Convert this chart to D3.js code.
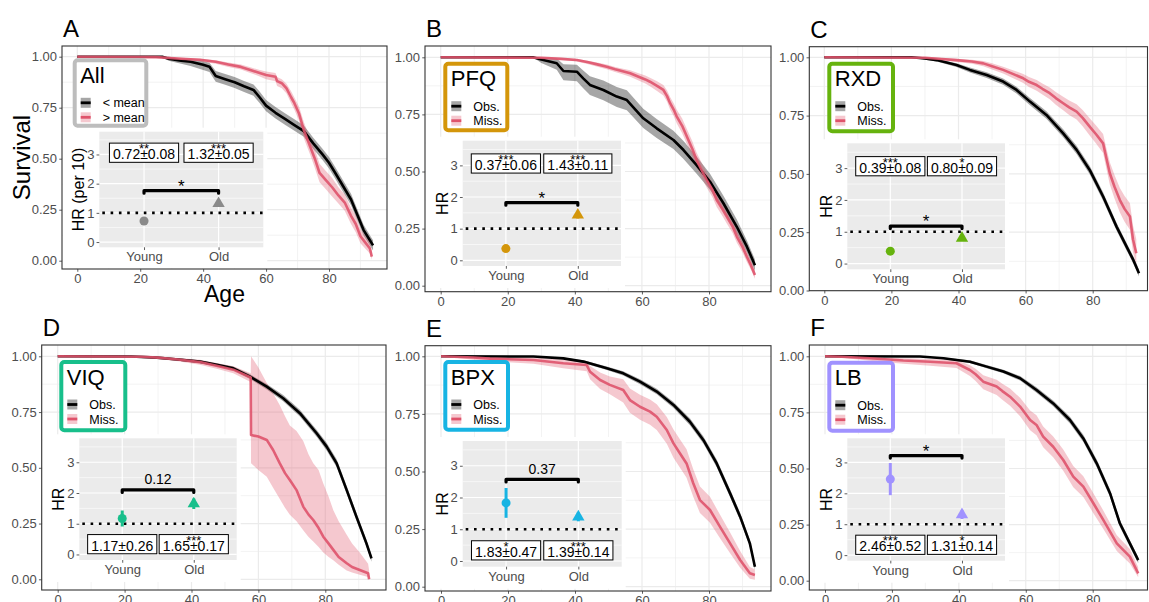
<!DOCTYPE html>
<html>
<head>
<meta charset="utf-8">
<script src="https://cdn.jsdelivr.net/npm/d3@7"></script>
<style>
  body { margin: 0; background: #fff; }
  svg { display: block; font-family: "Liberation Sans", Arial, sans-serif; }
</style>
</head>
<body>
<svg id="chart" width="1149" height="602"></svg>
<script>
// Kaplan-Meier curves, rows are [age, survival, lower CI, upper CI]
const allLow = [[0,1,1,1],[27,1,1,1],[29,0.99,0.98,1],[33,0.98,0.965,0.99],[36,0.975,0.955,0.988],[40,0.96,0.935,0.978],[42,0.951,0.925,0.97],[44,0.905,0.877,0.93],[47,0.89,0.862,0.915],[50,0.875,0.847,0.9],[53,0.855,0.827,0.881],[56,0.837,0.808,0.864],[58,0.8,0.772,0.828],[60,0.76,0.732,0.788],[63,0.725,0.697,0.753],[66,0.695,0.667,0.723],[69,0.665,0.637,0.693],[72,0.635,0.607,0.663],[75,0.575,0.547,0.603],[78,0.52,0.492,0.548],[80,0.48,0.452,0.508],[82,0.43,0.402,0.458],[84.5,0.365,0.337,0.393],[87,0.3,0.272,0.328],[89,0.225,0.198,0.252],[91,0.15,0.124,0.176],[93,0.1,0.075,0.125],[94,0.075,0.05,0.1]];
const allHigh = [[0,1,1,1],[25,0.998,0.995,1],[33,0.99,0.985,0.995],[39,0.985,0.978,0.99],[44,0.975,0.965,0.983],[48,0.962,0.95,0.972],[52,0.95,0.937,0.962],[55,0.935,0.92,0.948],[58,0.92,0.903,0.935],[60,0.91,0.89,0.927],[63,0.902,0.88,0.92],[63.5,0.88,0.856,0.9],[65,0.87,0.845,0.89],[66.5,0.845,0.82,0.868],[68,0.8,0.77,0.83],[69,0.772,0.74,0.8],[70.5,0.72,0.685,0.755],[72,0.64,0.6,0.68],[73,0.6,0.56,0.64],[74,0.56,0.52,0.6],[75.5,0.5,0.455,0.545],[77,0.43,0.385,0.475],[79,0.395,0.35,0.44],[81,0.36,0.315,0.405],[83,0.32,0.28,0.36],[85,0.285,0.245,0.325],[87,0.22,0.18,0.26],[88.5,0.18,0.14,0.22],[90,0.12,0.085,0.155],[91.5,0.09,0.06,0.12],[93,0.06,0.035,0.09],[93.6,0.02,0.005,0.04]];

const pfqObs = [[0,1,1,1],[27.5,1,1,1],[30,0.99,0.975,0.998],[34.6,0.974,0.945,0.995],[36.6,0.94,0.9,0.97],[40.6,0.937,0.895,0.967],[42.5,0.908,0.865,0.942],[44.5,0.879,0.835,0.917],[48.5,0.857,0.812,0.898],[52.5,0.828,0.782,0.87],[55.5,0.813,0.768,0.856],[60.4,0.733,0.69,0.775],[64.4,0.689,0.647,0.73],[69.4,0.638,0.598,0.678],[72.4,0.594,0.555,0.633],[76.3,0.528,0.49,0.566],[80.3,0.455,0.42,0.49],[84.3,0.361,0.328,0.394],[88.3,0.258,0.228,0.29],[91.3,0.171,0.145,0.198],[93.7,0.09,0.065,0.115]];
const pfqMiss = [[0,1,1,1],[30,0.998,0.995,1],[36,0.993,0.988,0.997],[40.6,0.988,0.982,0.993],[44,0.978,0.97,0.985],[47,0.968,0.958,0.976],[49.5,0.959,0.948,0.968],[52,0.948,0.936,0.958],[54,0.94,0.927,0.951],[56.5,0.93,0.915,0.943],[59,0.915,0.898,0.93],[61,0.903,0.885,0.92],[62.4,0.893,0.873,0.911],[64.5,0.875,0.853,0.895],[66.4,0.857,0.833,0.879],[67.5,0.83,0.805,0.855],[68.4,0.799,0.772,0.826],[69.5,0.77,0.742,0.798],[70.4,0.74,0.71,0.77],[72,0.7,0.668,0.732],[73.4,0.653,0.62,0.686],[75,0.6,0.567,0.633],[76.3,0.55,0.517,0.583],[78,0.5,0.467,0.533],[79.3,0.463,0.43,0.496],[81,0.42,0.388,0.452],[82.3,0.375,0.345,0.405],[84,0.335,0.305,0.365],[85.3,0.302,0.272,0.332],[87,0.26,0.232,0.288],[88.3,0.215,0.188,0.242],[90,0.17,0.145,0.195],[91.3,0.127,0.104,0.15],[92.5,0.09,0.07,0.11],[93.7,0.047,0.03,0.065]];

const rxdObs = [[0,1,1,1],[26,1,1,1],[30,0.995,0.99,0.999],[33.5,0.988,0.982,0.993],[39.4,0.967,0.958,0.975],[43.4,0.946,0.935,0.956],[48.4,0.924,0.911,0.936],[53.3,0.896,0.882,0.909],[57.3,0.86,0.845,0.874],[61.3,0.81,0.794,0.825],[66.2,0.753,0.737,0.769],[71.2,0.674,0.657,0.691],[75.2,0.603,0.585,0.621],[79.1,0.517,0.499,0.535],[83.1,0.403,0.385,0.421],[87.1,0.274,0.257,0.291],[90.1,0.188,0.172,0.204],[92.1,0.131,0.115,0.147],[93.8,0.074,0.06,0.09]];
const rxdMiss = [[0,1,1,1],[30,0.998,0.995,1],[35,0.993,0.987,0.997],[39.4,0.988,0.98,0.994],[44,0.982,0.972,0.99],[47.4,0.974,0.962,0.984],[50,0.962,0.948,0.974],[53.3,0.946,0.93,0.96],[56,0.93,0.912,0.946],[59.3,0.91,0.89,0.928],[61,0.895,0.873,0.915],[63.3,0.881,0.857,0.903],[65,0.865,0.84,0.888],[67.2,0.846,0.82,0.87],[69,0.825,0.797,0.851],[71.2,0.803,0.773,0.831],[73,0.785,0.753,0.815],[75.2,0.767,0.733,0.799],[77,0.74,0.704,0.774],[79.1,0.703,0.665,0.739],[81,0.67,0.63,0.708],[83.1,0.631,0.59,0.671],[84.2,0.56,0.515,0.603],[85.1,0.503,0.455,0.55],[86.5,0.445,0.395,0.495],[88.1,0.388,0.335,0.44],[89.5,0.35,0.295,0.405],[91.1,0.317,0.26,0.374],[92,0.22,0.165,0.28],[93,0.16,0.11,0.22]];

const viqObs = [[0,1,1,1],[22,0.999,0.998,1],[29.6,0.994,0.99,0.997],[36,0.986,0.98,0.991],[42.5,0.976,0.969,0.982],[47.5,0.962,0.954,0.969],[52.5,0.946,0.937,0.954],[57.5,0.909,0.898,0.919],[62.5,0.864,0.851,0.876],[67.4,0.812,0.798,0.826],[72.4,0.745,0.73,0.76],[77.4,0.655,0.639,0.671],[80.4,0.595,0.578,0.612],[83.4,0.52,0.502,0.538],[86.4,0.4,0.382,0.418],[89.3,0.281,0.264,0.298],[92.3,0.161,0.145,0.177],[93.8,0.094,0.079,0.109]];
const viqMiss = [[0,1,1,1],[25,0.998,0.995,1],[30,0.994,0.988,0.998],[36,0.986,0.978,0.992],[42.5,0.974,0.962,0.984],[47.5,0.958,0.944,0.97],[52.5,0.94,0.924,0.955],[57.7,0.905,0.885,0.924],[57.8,0.647,0.52,1],[60,0.64,0.49,0.95],[62.5,0.625,0.46,0.88],[64.4,0.58,0.41,0.834],[66.4,0.52,0.36,0.78],[68,0.475,0.32,0.73],[69.4,0.445,0.29,0.69],[71.4,0.4,0.26,0.665],[73.4,0.326,0.22,0.62],[75,0.29,0.19,0.56],[76.4,0.266,0.17,0.52],[78,0.23,0.145,0.49],[79.4,0.191,0.12,0.43],[81,0.16,0.1,0.37],[82.4,0.132,0.085,0.31],[84,0.1,0.065,0.26],[86.4,0.072,0.04,0.2],[88,0.055,0.03,0.16],[90.3,0.042,0.02,0.12],[92.8,0.027,0.01,0.07],[93.1,0,0,0.04]];

const bpxObs = [[0,1,1,1],[27.6,0.999,0.998,1],[36.5,0.991,0.987,0.995],[42.5,0.977,0.971,0.983],[49.5,0.948,0.94,0.956],[54.4,0.926,0.917,0.935],[59.4,0.89,0.879,0.9],[64.4,0.847,0.835,0.859],[69.4,0.789,0.776,0.802],[74.3,0.716,0.701,0.731],[78.3,0.637,0.621,0.653],[82.3,0.535,0.518,0.552],[86.3,0.405,0.388,0.422],[89.3,0.304,0.287,0.321],[92.2,0.188,0.172,0.204],[93.7,0.087,0.072,0.102]];
const bpxMiss = [[0,1,1,1],[9.7,0.995,0.985,1],[14.6,0.99,0.978,0.998],[27.6,0.984,0.968,0.995],[36.5,0.97,0.948,0.986],[43.5,0.962,0.935,0.98],[44.5,0.933,0.9,0.958],[47.5,0.897,0.858,0.93],[50.4,0.876,0.835,0.912],[54.4,0.854,0.8,0.9],[56.4,0.81,0.755,0.86],[59.4,0.781,0.725,0.833],[62.4,0.76,0.703,0.813],[64.4,0.738,0.68,0.792],[67.4,0.68,0.62,0.737],[69.4,0.622,0.56,0.682],[71.3,0.579,0.517,0.64],[73.3,0.535,0.473,0.597],[75.3,0.449,0.39,0.51],[77.3,0.376,0.32,0.435],[80.3,0.333,0.278,0.39],[83.3,0.26,0.21,0.312],[86.3,0.188,0.145,0.235],[89.3,0.116,0.082,0.155],[92.2,0.058,0.035,0.085],[93.7,0.051,0.03,0.075]];

const lbObs = [[0,1,1,1],[28.4,0.999,0.998,1],[35.4,0.991,0.987,0.995],[43.3,0.976,0.97,0.982],[48.3,0.954,0.947,0.961],[53.3,0.932,0.924,0.94],[58.3,0.902,0.892,0.912],[63.2,0.85,0.838,0.862],[68.2,0.79,0.777,0.803],[73.2,0.716,0.701,0.731],[77.2,0.634,0.618,0.65],[81.2,0.523,0.506,0.54],[85.2,0.389,0.372,0.406],[88.1,0.256,0.24,0.272],[91.1,0.166,0.151,0.181],[93.6,0.092,0.078,0.106]];
const lbMiss = [[0,1,1,1],[5,0.998,0.993,1],[13.4,0.991,0.98,0.998],[23.4,0.981,0.967,0.991],[31.4,0.976,0.958,0.988],[39.3,0.969,0.948,0.984],[43.3,0.939,0.912,0.96],[45,0.92,0.89,0.944],[47.3,0.887,0.853,0.915],[51.3,0.865,0.828,0.896],[53,0.845,0.806,0.878],[55.3,0.82,0.78,0.856],[58.3,0.776,0.733,0.815],[61.3,0.716,0.671,0.758],[63.2,0.694,0.648,0.737],[65.2,0.642,0.595,0.687],[68.2,0.597,0.55,0.643],[71.2,0.538,0.49,0.585],[74.2,0.464,0.417,0.511],[77.2,0.419,0.373,0.466],[80.2,0.345,0.301,0.39],[83.2,0.27,0.23,0.312],[87.2,0.166,0.132,0.203],[91.1,0.107,0.077,0.141],[93.6,0.033,0.015,0.06]];

const ageTicks = [0, 20, 40, 60, 80];
const ageMinor = [10, 30, 50, 70, 90];
const survTicks = [0, 0.25, 0.5, 0.75, 1];
const survMinor = [0.125, 0.375, 0.625, 0.875];
const hrTicks = [0, 1, 2, 3];
const hrMinor = [0.5, 1.5, 2.5, 3.5];
const groups = ['Young', 'Old'];

const panelLetters = ['A', 'B', 'C', 'D', 'E', 'F'];
const variables = ['All', 'PFQ', 'RXD', 'VIQ', 'BPX', 'LB'];
const seriesLabels = [['< mean', '> mean'], ['Obs.', 'Miss.'], ['Obs.', 'Miss.'], ['Obs.', 'Miss.'], ['Obs.', 'Miss.'], ['Obs.', 'Miss.']];
const hrTitles = ['HR (per 10)', 'HR', 'HR', 'HR', 'HR', 'HR'];
const hrYoung = [0.72, 0.37, 0.39, 1.17, 1.83, 2.46];
const seYoung = [0.08, 0.06, 0.08, 0.26, 0.47, 0.52];
const hrOld = [1.32, 1.43, 0.80, 1.65, 1.39, 1.31];
const seOld = [0.05, 0.11, 0.09, 0.17, 0.14, 0.14];
const starsYoung = ['**', '***', '***', '', '*', '***'];
const starsOld = ['***', '***', '*', '***', '***', '*'];
const pairText = ['*', '*', '*', '0.12', '0.37', '*'];
const pairY = [1.76, 1.82, 1.18, 2.1, 2.57, 3.22];
const labelY = [3.06, 3.06, 3.06, 0.335, 0.335, 0.335];
const accent = ['#8a8a8a', '#d4960a', '#66b30e', '#18bf8b', '#17b4e3', '#a092ff'];
const legendBorder = ['#bdbdbd', '#d4960a', '#66b30e', '#18bf8b', '#17b4e3', '#a092ff'];
const curves = [[allLow, allHigh], [pfqObs, pfqMiss], [rxdObs, rxdMiss], [viqObs, viqMiss], [bpxObs, bpxMiss], [lbObs, lbMiss]];

// pixel geometry of each panel (x0/x80: age 0 and 80, s0/s1: survival 0 and 1)
const layout = [
  { left: 62, right: 387, top: 46, bottom: 269, x0: 77.3, x80: 329, s0: 260.7, s1: 56.7,
    inset: [99.3, 263.3, 131.7, 247.3], legend: [72.7, 58.3, 75.6, 69.4] },
  { left: 425, right: 771, top: 46, bottom: 291.7, x0: 440.7, x80: 709, s0: 285.7, s1: 57.3,
    inset: [462.7, 621, 140.7, 266], legend: [443.3, 61.7, 66, 70.6] },
  { left: 809.3, right: 1147.5, top: 46.7, bottom: 290.7, x0: 824.3, x80: 1092.7, s0: 290.5, s1: 57.3,
    inset: [847.3, 1005, 143.3, 269.3], legend: [827.3, 61.7, 67.7, 71.6] },
  { left: 41.7, right: 386, top: 345, bottom: 590, x0: 57.7, x80: 325.3, s0: 579.3, s1: 356.3,
    inset: [79.3, 236.7, 438.3, 560], legend: [59.3, 360, 68, 72.3] },
  { left: 425, right: 771, top: 345.7, bottom: 591, x0: 441, x80: 709, s0: 586.7, s1: 356.3,
    inset: [462.7, 621.7, 441, 566.7], legend: [443.3, 360, 66.7, 71.7] },
  { left: 809.3, right: 1147.5, top: 345, bottom: 590, x0: 825, x80: 1092.7, s0: 580.7, s1: 356.3,
    inset: [847.3, 1005, 438.3, 560.7], legend: [827.3, 360.7, 67.7, 72] }
];

const lineColors = ['#000000', '#df536b'];
const bandOpacity = [0.35, 0.32];
const tickGrey = '#4d4d4d';
const fmt2 = d3.format('.2f');

const svg = d3.select('#chart');

const styleAxis = (sel, size) => {
  sel.select('.domain').remove();
  sel.selectAll('.tick line').attr('stroke', '#333333').attr('stroke-width', 0.8);
  sel.selectAll('.tick text')
    .attr('fill', tickGrey)
    .attr('font-size', size)
    .attr('font-family', '"Liberation Sans", Arial, sans-serif');
};

layout.forEach((p, i) => {
  const x = d3.scaleLinear().domain([0, 80]).range([p.x0, p.x80]);
  const y = d3.scaleLinear().domain([0, 1]).range([p.s0, p.s1]);
  const g = svg.append('g').attr('class', `panel panel-${i}`);

  g.append('clipPath')
    .attr('id', `clip${i}`)
    .append('rect')
    .attr('x', p.left)
    .attr('y', p.top)
    .attr('width', p.right - p.left)
    .attr('height', p.bottom - p.top);

  // grid lines
  const grid = g.append('g');
  grid.selectAll('.vmin').data(ageMinor.filter(d => x(d) < p.right)).join('line')
    .attr('x1', d => x(d)).attr('x2', d => x(d))
    .attr('y1', p.top).attr('y2', p.bottom)
    .attr('stroke', '#ebebeb').attr('stroke-width', 0.6);
  grid.selectAll('.hmin').data(survMinor).join('line')
    .attr('x1', p.left).attr('x2', p.right)
    .attr('y1', d => y(d)).attr('y2', d => y(d))
    .attr('stroke', '#ebebeb').attr('stroke-width', 0.6);
  grid.selectAll('.vmaj').data(ageTicks).join('line')
    .attr('x1', d => x(d)).attr('x2', d => x(d))
    .attr('y1', p.top).attr('y2', p.bottom)
    .attr('stroke', '#ebebeb').attr('stroke-width', 1.2);
  grid.selectAll('.hmaj').data(survTicks).join('line')
    .attr('x1', p.left).attr('x2', p.right)
    .attr('y1', d => y(d)).attr('y2', d => y(d))
    .attr('stroke', '#ebebeb').attr('stroke-width', 1.2);

  // survival bands and lines
  const plot = g.append('g').attr('clip-path', `url(#clip${i})`);
  curves[i].forEach((rows, k) => {
    const area = d3.area()
      .x(d => x(d[0]))
      .y0(d => y(d[2]))
      .y1(d => y(d[3]));
    plot.append('path')
      .datum(rows)
      .attr('d', area)
      .attr('fill', lineColors[k])
      .attr('fill-opacity', bandOpacity[k]);
  });
  curves[i].forEach((rows, k) => {
    const line = d3.line()
      .x(d => x(d[0]))
      .y(d => y(d[1]));
    plot.append('path')
      .datum(rows)
      .attr('d', line)
      .attr('fill', 'none')
      .attr('stroke', lineColors[k])
      .attr('stroke-opacity', k === 0 ? 1 : 0.9)
      .attr('stroke-width', 2.6)
      .attr('stroke-linejoin', 'round');
  });

  // inset hazard ratio plot
  const [gl, gr, gt, gb] = p.inset;
  const inset = g.append('g');
  const bgBottom = Math.min(gb + 22, p.bottom - 0.6);
  inset.append('rect')
    .attr('x', p.left + 0.6)
    .attr('y', gt - 4)
    .attr('width', gr + 4 - p.left - 0.6)
    .attr('height', bgBottom - gt + 4)
    .attr('fill', '#ffffff');
  inset.append('rect')
    .attr('x', gl).attr('y', gt)
    .attr('width', gr - gl).attr('height', gb - gt)
    .attr('fill', '#ebebeb');

  const hy = d3.scaleLinear().domain([-0.18, 3.78]).range([gb, gt]);
  const hx = d3.scalePoint().domain(groups).range([gl, gr]).padding(0.6);

  inset.selectAll('.hrmin').data(hrMinor).join('line')
    .attr('x1', gl).attr('x2', gr)
    .attr('y1', d => hy(d)).attr('y2', d => hy(d))
    .attr('stroke', '#ffffff').attr('stroke-width', 0.6);
  inset.selectAll('.hrmaj').data(hrTicks).join('line')
    .attr('x1', gl).attr('x2', gr)
    .attr('y1', d => hy(d)).attr('y2', d => hy(d))
    .attr('stroke', '#ffffff').attr('stroke-width', 1.2);
  inset.selectAll('.grpmaj').data(groups).join('line')
    .attr('x1', d => hx(d)).attr('x2', d => hx(d))
    .attr('y1', gt).attr('y2', gb)
    .attr('stroke', '#ffffff').attr('stroke-width', 1.2);

  // reference line at HR = 1
  inset.append('line')
    .attr('x1', gl + 3).attr('x2', gr)
    .attr('y1', hy(1)).attr('y2', hy(1))
    .attr('stroke', '#000')
    .attr('stroke-width', 2.6)
    .attr('stroke-dasharray', '2.6 5.7');

  // comparison bracket
  const by = hy(pairY[i]);
  const bx1 = hx(groups[0]);
  const bx2 = hx(groups[1]);
  inset.append('path')
    .attr('d', `M${bx1},${by + 2.5}L${bx1},${by}L${bx2},${by}L${bx2},${by + 2.5}`)
    .attr('fill', 'none')
    .attr('stroke', '#000')
    .attr('stroke-width', 3.2)
    .attr('stroke-linecap', 'round')
    .attr('stroke-linejoin', 'round');
  const isStars = /^\*+$/.test(pairText[i]);
  inset.append('text')
    .attr('x', (bx1 + bx2) / 2)
    .attr('y', isStars ? by + 1 : by - 5.5)
    .attr('text-anchor', 'middle')
    .attr('font-size', isStars ? 17 : 14)
    .text(pairText[i]);

  // hazard ratios with error bars
  const hrs = [hrYoung[i], hrOld[i]];
  const ses = [seYoung[i], seOld[i]];
  groups.forEach((grp, j) => {
    inset.append('line')
      .attr('x1', hx(grp)).attr('x2', hx(grp))
      .attr('y1', hy(hrs[j] - ses[j])).attr('y2', hy(hrs[j] + ses[j]))
      .attr('stroke', accent[i])
      .attr('stroke-width', 3);
    inset.append('path')
      .attr('transform', `translate(${hx(grp)},${hy(hrs[j])})`)
      .attr('d', d3.symbol().type(j === 0 ? d3.symbolCircle : d3.symbolTriangle).size(j === 0 ? 64 : 66)())
      .attr('fill', accent[i]);
  });

  // value labels
  const stars = [starsYoung[i], starsOld[i]];
  groups.forEach((grp, j) => {
    const cx = hx(grp);
    const cy = hy(labelY[i]);
    const lab = inset.append('g');
    const rect = lab.append('rect');
    const txt = lab.append('text')
      .attr('x', cx)
      .attr('y', cy + 6.6)
      .attr('text-anchor', 'middle')
      .attr('font-size', 14)
      .text(`${fmt2(hrs[j])}±${fmt2(ses[j])}`);
    const w = txt.node().getComputedTextLength() + 7;
    rect.attr('x', cx - w / 2).attr('y', cy - 9.6)
      .attr('width', w).attr('height', 19.2)
      .attr('fill', '#fff')
      .attr('stroke', '#000')
      .attr('stroke-width', 1);
    lab.append('text')
      .attr('x', cx)
      .attr('y', cy - 9.6 + 10)
      .attr('text-anchor', 'middle')
      .attr('font-size', 13)
      .text(stars[j]);
  });

  inset.append('g')
    .attr('transform', `translate(${gl},0)`)
    .call(d3.axisLeft(hy).tickValues(hrTicks).tickFormat(d3.format('d')).tickSize(2.75).tickPadding(2.2))
    .call(sel => styleAxis(sel, 13));
  inset.append('g')
    .attr('transform', `translate(0,${gb})`)
    .call(d3.axisBottom(hx).tickSize(2.75).tickPadding(2.2))
    .call(sel => styleAxis(sel, 13));
  inset.append('text')
    .attr('transform', `translate(${gl - 15},${(gt + gb) / 2}) rotate(-90)`)
    .attr('text-anchor', 'middle')
    .attr('font-size', 16)
    .text(hrTitles[i]);

  // legend
  const [lx, ly, lw, lh] = p.legend;
  const leg = g.append('g');
  leg.append('rect')
    .attr('x', lx + 2).attr('y', ly + 2)
    .attr('width', lw - 4).attr('height', lh - 4)
    .attr('rx', 3)
    .attr('fill', '#fff')
    .attr('stroke', legendBorder[i])
    .attr('stroke-width', 4);
  leg.append('text')
    .attr('x', lx + 7.5)
    .attr('y', ly + 24.5)
    .attr('font-size', 22)
    .text(variables[i]);
  seriesLabels[i].forEach((name, k) => {
    const ky = ly + 44.5 + k * 14.5;
    leg.append('rect')
      .attr('x', lx + 8).attr('y', ky - 5)
      .attr('width', 10).attr('height', 10)
      .attr('fill', lineColors[k])
      .attr('fill-opacity', bandOpacity[k]);
    leg.append('line')
      .attr('x1', lx + 8).attr('x2', lx + 18)
      .attr('y1', ky).attr('y2', ky)
      .attr('stroke', lineColors[k])
      .attr('stroke-width', 2.8);
    leg.append('text')
      .attr('x', lx + 30)
      .attr('y', ky + 4.5)
      .attr('font-size', 12.5)
      .text(name);
  });

  // panel border and axes
  g.append('rect')
    .attr('x', p.left).attr('y', p.top)
    .attr('width', p.right - p.left).attr('height', p.bottom - p.top)
    .attr('fill', 'none')
    .attr('stroke', '#333333')
    .attr('stroke-width', 1.1);
  g.append('g')
    .attr('transform', `translate(${p.left},0)`)
    .call(d3.axisLeft(y).tickValues(survTicks).tickFormat(fmt2).tickSize(2.75).tickPadding(2.2))
    .call(sel => styleAxis(sel, 13));
  g.append('g')
    .attr('transform', `translate(0,${p.bottom})`)
    .call(d3.axisBottom(x).tickValues(ageTicks).tickSize(2.75).tickPadding(2.2))
    .call(sel => styleAxis(sel, 13));

  g.append('text')
    .attr('x', p.left + 1)
    .attr('y', p.top - 9)
    .attr('font-size', 24)
    .text(panelLetters[i]);

  if (i === 0) {
    g.append('text')
      .attr('transform', `translate(30,${(p.top + p.bottom) / 2}) rotate(-90)`)
      .attr('text-anchor', 'middle')
      .attr('font-size', 24)
      .text('Survival');
    g.append('text')
      .attr('x', (p.left + p.right) / 2)
      .attr('y', 302)
      .attr('text-anchor', 'middle')
      .attr('font-size', 23)
      .text('Age');
  }
});
</script>
</body>
</html>
